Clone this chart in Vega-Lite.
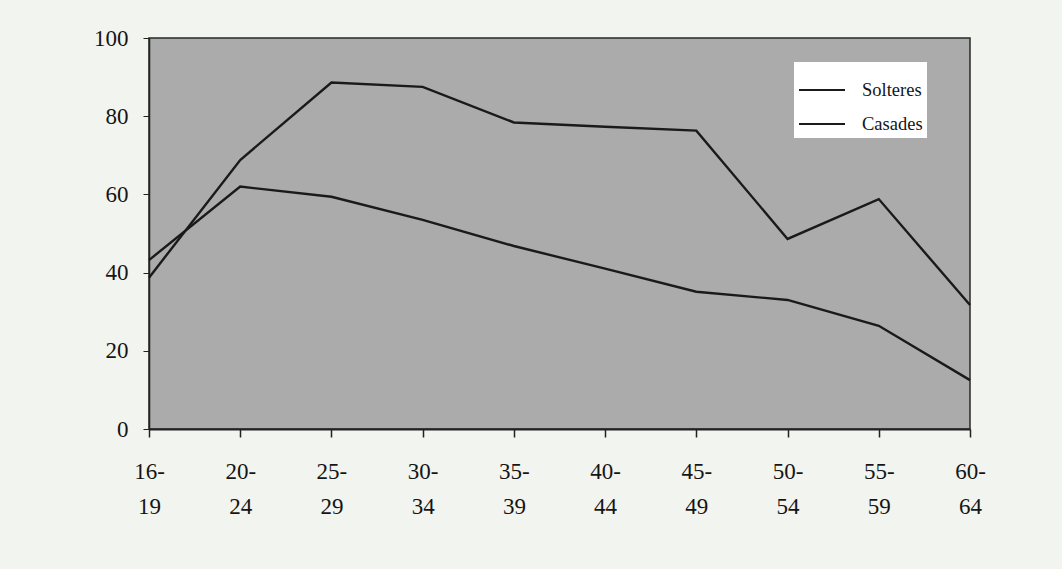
{
  "$schema": "https://vega.github.io/schema/vega-lite/v6.json",
  "width": 821,
  "height": 391,
  "autosize": {"type": "none"},
  "padding": {"left": 149, "top": 38, "right": 92, "bottom": 140},
  "background": "#f2f4ef",
  "config": {
    "view": {"fill": "#ababab", "stroke": "#2a2a2a", "strokeWidth": 1.5},
    "font": "Liberation Serif"
  },
  "data": {
    "values": [
      {"age": "16-19", "estat": "Solteres", "pct": 38.7},
      {"age": "20-24", "estat": "Solteres", "pct": 68.8},
      {"age": "25-29", "estat": "Solteres", "pct": 88.6},
      {"age": "30-34", "estat": "Solteres", "pct": 87.5},
      {"age": "35-39", "estat": "Solteres", "pct": 78.4},
      {"age": "40-44", "estat": "Solteres", "pct": 77.3},
      {"age": "45-49", "estat": "Solteres", "pct": 76.3},
      {"age": "50-54", "estat": "Solteres", "pct": 48.6},
      {"age": "55-59", "estat": "Solteres", "pct": 58.8},
      {"age": "60-64", "estat": "Solteres", "pct": 31.7},
      {"age": "16-19", "estat": "Casades", "pct": 43.2},
      {"age": "20-24", "estat": "Casades", "pct": 62.0},
      {"age": "25-29", "estat": "Casades", "pct": 59.4},
      {"age": "30-34", "estat": "Casades", "pct": 53.5},
      {"age": "35-39", "estat": "Casades", "pct": 46.8},
      {"age": "40-44", "estat": "Casades", "pct": 41.0},
      {"age": "45-49", "estat": "Casades", "pct": 35.1},
      {"age": "50-54", "estat": "Casades", "pct": 33.0},
      {"age": "55-59", "estat": "Casades", "pct": 26.4},
      {"age": "60-64", "estat": "Casades", "pct": 12.5}
    ]
  },
  "mark": {"type": "line", "strokeWidth": 2.4},
  "encoding": {
    "x": {
      "field": "age",
      "type": "ordinal",
      "sort": null,
      "scale": {"type": "point", "padding": 0},
      "axis": {
        "title": null,
        "labelAngle": 0,
        "labelExpr": "[slice(datum.label,0,3), slice(datum.label,3)]",
        "labelFontSize": 23,
        "labelLineHeight": 35,
        "labelPadding": 23,
        "labelColor": "#151515",
        "labelBaseline": "top",
        "domainColor": "#222222",
        "domainWidth": 2,
        "tickColor": "#222222",
        "tickSize": 8,
        "tickWidth": 1.5,
        "grid": false
      }
    },
    "y": {
      "field": "pct",
      "type": "quantitative",
      "scale": {"domain": [0, 100]},
      "axis": {
        "title": null,
        "values": [0, 20, 40, 60, 80, 100],
        "labelFontSize": 23,
        "labelPadding": 15,
        "labelColor": "#151515",
        "domainColor": "#222222",
        "domainWidth": 1.5,
        "tickColor": "#222222",
        "tickSize": 6,
        "grid": false
      }
    },
    "color": {
      "field": "estat",
      "type": "nominal",
      "scale": {"domain": ["Solteres", "Casades"], "range": ["#1a1a1a", "#1a1a1a"]},
      "legend": {
        "title": null,
        "orient": "none",
        "legendX": 645,
        "legendY": 24,
        "fillColor": "#ffffff",
        "padding": 4,
        "symbolType": "stroke",
        "symbolSize": 2116,
        "symbolStrokeWidth": 2,
        "labelFontSize": 18.5,
        "labelColor": "#151515",
        "labelOffset": 16,
        "rowPadding": 0
      }
    }
  }
}
